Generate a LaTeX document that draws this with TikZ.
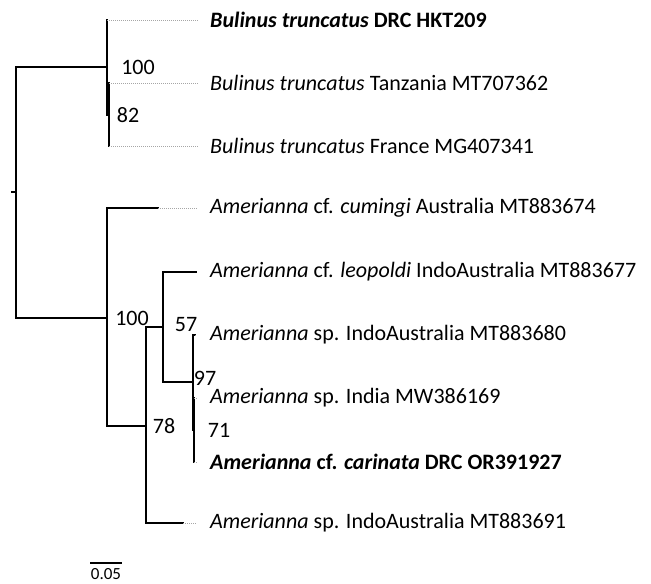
\documentclass[tikz,border=0pt]{standalone}
\usepackage{fontspec}
\setmainfont{Carlito}
\begin{document}
\begin{tikzpicture}[x=1pt,y=-1pt,
  br/.style={line width=1.4pt,line cap=rect},
  dot/.style={gray!70,line width=0.8pt,dash pattern=on 1pt off 1pt},
  leaf/.style={anchor=west,inner sep=0pt,font=\fontsize{22}{24}\selectfont},
  sup/.style={inner sep=0pt,font=\fontsize{22}{24}\selectfont}]
\useasboundingbox (0,0) rectangle (651,584);
% coordinates of internal nodes
\coordinate (root) at (16,192);
\coordinate (rs) at (12,192);
\coordinate (nB) at (107,67);
\coordinate (nB2) at (109,115);
\coordinate (nA) at (107,318);
\coordinate (n78) at (146,426);
\coordinate (n57) at (163,327);
\coordinate (n97) at (193,382);
\coordinate (n71) at (194,430);
% leaf tips
\coordinate (t1) at (198,20);
\coordinate (t2) at (198,83);
\coordinate (t3) at (198,146);
\coordinate (t4) at (197,208);
\coordinate (t5) at (196,272);
\coordinate (t6) at (197,335);
\coordinate (t7) at (197,398);
\coordinate (t8) at (197,462);
\coordinate (t9) at (197,523);
% root
\draw[br] (rs) -- (root);
\draw[br] (16,67) -- (16,318);
\draw[br] (16,67) -- (nB);
\draw[br] (16,318) -- (nA);
% Bulinus clade
\draw[br] (107,20) -- (107,115) -- (nB2);
\draw[br] (109,83) -- (109,146);
\draw[dot] (107,20) -- (t1);
\draw[dot] (109,83) -- (t2);
\draw[dot] (109,146) -- (t3);
% Amerianna clade
\draw[br] (107,208) -- (107,426);
\draw[br] (107,208) -- (158,208);
\draw[dot] (158,208) -- (t4);
\draw[br] (107,426) -- (n78);
\draw[br] (146,327) -- (146,523);
\draw[br] (146,523) -- (183,523);
\draw[dot] (183,523) -- (t9);
\draw[br] (146,327) -- (n57);
\draw[br] (163,272) -- (163,382);
\draw[br] (163,272) -- (t5);
\draw[br] (163,382) -- (n97);
\draw[br] (193,335) -- (193,430);
\draw[br] (193,335) -- (195,335);
\draw[dot] (195,335) -- (t6);
\draw[br] (193,430) -- (n71);
\draw[br] (194,398) -- (194,462);
\draw[dot] (194,398) -- (t7);
\draw[dot] (194,462) -- (t8);
% leaf labels
\node[leaf] (l1) at (210,20) {\textbf{\textit{Bulinus truncatus} DRC HKT209}};
\node[leaf] (l2) at (210,83) {\textit{Bulinus truncatus} Tanzania MT707362};
\node[leaf] (l3) at (210,146) {\textit{Bulinus truncatus} France MG407341};
\node[leaf] (l4) at (210,208) {\textit{Amerianna} cf. \textit{cumingi} Australia MT883674};
\node[leaf] (l5) at (210,272) {\textit{Amerianna} cf. \textit{leopoldi} IndoAustralia MT883677};
\node[leaf] (l6) at (210,335) {\textit{Amerianna} sp. IndoAustralia MT883680};
\node[leaf] (l7) at (210,398) {\textit{Amerianna} sp. India MW386169};
\node[leaf] (l8) at (210,462) {\textbf{\textit{Amerianna} cf. \textit{carinata} DRC OR391927}};
\node[leaf] (l9) at (210,523) {\textit{Amerianna} sp. IndoAustralia MT883691};
% support values
\node[sup] (s1) at (138,67) {100};
\node[sup] (s2) at (128,115) {82};
\node[sup] (s3) at (132,318) {100};
\node[sup] (s4) at (186,325) {57};
\node[sup] (s5) at (205,378) {97};
\node[sup] (s6) at (219,430) {71};
\node[sup] (s7) at (164,426) {78};
% scale bar
\coordinate (sb1) at (90,563);
\coordinate (sb2) at (122,563);
\draw[line width=1.2pt] (sb1) -- (sb2);
\node[inner sep=0pt,anchor=north,font=\fontsize{17}{18}\selectfont] (sbl) at (106,568) {0.05};
\end{tikzpicture}
\end{document}
